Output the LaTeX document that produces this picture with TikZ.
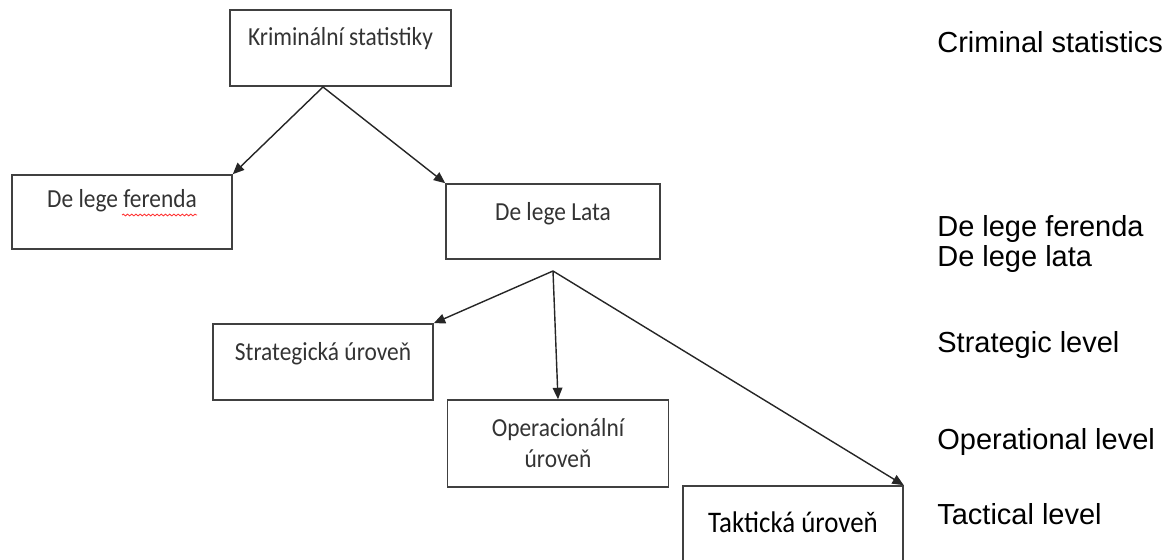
\documentclass[tikz,border=0pt]{standalone}
\usepackage{fontspec}
\usetikzlibrary{arrows.meta,decorations.pathmorphing}
\newfontfamily\boxfont[FakeStretch=0.9]{Carlito}
\newfontfamily\glossfont{Liberation Sans}

\begin{document}
\begin{tikzpicture}[x = .02cm, y = -.02cm,
    box/.style = {draw=black!75, line width=0.9pt, inner sep=0pt, align=center, text=black!80,
      font=\boxfont\fontsize{14.8}{17.6}\selectfont},
    arr/.style = {draw=black!85, line width=0.8pt, -{Triangle[length=6.5pt,width=5.5pt]}},
    gloss/.style = {anchor=base west, inner sep=0pt, font=\glossfont\fontsize{16.5}{19}\selectfont}]
        \useasboundingbox (0,0) rectangle (1171,560);
        \node[box, minimum width=4.42cm, text height=20.4pt, text depth=22.8pt] (krim) at (340.5,48) {Kriminální statistiky};
        \node[box, minimum width=4.4cm, text height=18.7pt, text depth=23.4pt] (ferenda) at (122,212) {De lege ferenda};
        \node[box, minimum width=4.28cm, text height=20.9pt, text depth=21.8pt] (lata) at (553,221.5) {De lege Lata};
        \node[box, minimum width=4.4cm, text height=20.9pt, text depth=22.3pt] (strat) at (323,362) {Strategická úroveň};
        \node[box, minimum width=4.42cm, minimum height=1.74cm] (oper) at (558,443.5) {Operacionální\\úroveň};
        \node[box, minimum width=4.4cm, text height=26.2pt, text depth=19.3pt, text=black,
          font=\boxfont\fontsize{17}{18}\selectfont] (takt) at (793,526) {Taktická úroveň};
        \draw[red!80, line width=0.5pt, decorate, decoration={snake, amplitude=0.5pt, segment length=2.4pt}] (122,215) -- (197,215);
        \coordinate (ksplit) at (323,87);
        \coordinate (lsplit) at (553,271);
        \draw[arr] (ksplit) -- (ferenda.north east);
        \draw[arr] (ksplit) -- (lata.north west);
        \draw[arr] (lsplit) -- (strat.north east);
        \draw[arr] (lsplit) -- (oper.north);
        \draw[arr] (lsplit) -- (takt.north east);
        \node[gloss] (g1) at (937,53) {Criminal statistics};
        \node[gloss] (g2) at (937,237) {De lege ferenda};
        \node[gloss] (g3) at (937,267) {De lege lata};
        \node[gloss] (g4) at (937,353) {Strategic level};
        \node[gloss] (g5) at (937,450) {Operational level};
        \node[gloss] (g6) at (937,525) {Tactical level};
      \end{tikzpicture}
\end{document}
